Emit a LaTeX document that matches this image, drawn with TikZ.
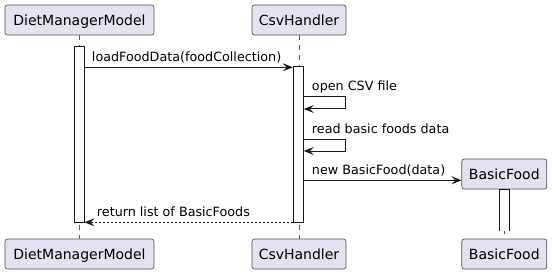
\documentclass[tikz,border=0pt]{standalone}
\usepackage{fontspec}
\setmainfont{DejaVu Sans}
\usetikzlibrary{arrows.meta}
\definecolor{ink}{HTML}{181818}
\definecolor{partfill}{HTML}{E2E2F0}
\begin{document}
\begin{tikzpicture}[x=0.75pt,y=-0.75pt,
  participant/.style={draw=ink!75, fill=partfill, rounded corners=1.9pt, line width=0.5pt,
    inner sep=0pt, minimum height=22.5pt, text height=7.6pt, text depth=0pt,
    font=\fontsize{10.5}{12}\selectfont},
  lifeline/.style={draw=ink!70, line width=0.4pt, dash pattern=on 3.75pt off 3.75pt},
  actbar/.style={draw=ink, fill=white, line width=0.75pt, inner sep=0pt, minimum width=7.5pt},
  msg/.style={draw=ink, line width=0.75pt, -{Stealth[length=7.5pt, width=6pt, inset=3pt]}},
  ret/.style={msg, dash pattern=on 1.5pt off 1.5pt},
  msglabel/.style={anchor=base west, inner sep=0pt, font=\fontsize{9.55}{11}\selectfont}]
\useasboundingbox[fill=white] (0,0) rectangle (552,274);

% participants, top and bottom
\node[participant, minimum width=111.75pt] (dmmT) at (79.5,20) {DietManagerModel};
\node[participant, minimum width=70.5pt]   (csvT) at (299,20)  {CsvHandler};
\node[participant, minimum width=111.75pt] (dmmB) at (79.5,254) {DietManagerModel};
\node[participant, minimum width=70.5pt]   (csvB) at (299,254) {CsvHandler};
\node[participant, minimum width=63.75pt]  (bfT)  at (504.3,174) {BasicFood};
\node[participant, minimum width=63.75pt]  (bfB)  at (504.3,254) {BasicFood};

% lifelines
\draw[lifeline] (dmmT.south) -- (dmmB.north);
\draw[lifeline] (csvT.south) -- (csvB.north);
\draw[lifeline] (bfT.south) -- (bfB.north);

% activation bars
\node[actbar, minimum height=132.5pt] (actDmm) at (79,134.35) {};
\node[actbar, minimum height=116.5pt] (actCsv) at (298.3,144.65) {};
\fill[white] (499.3,189) rectangle (509.3,231);
\draw[ink, line width=0.75pt] (499.3,231) -- (499.3,189) -- (509.3,189) -- (509.3,231);

% loadFoodData
\draw[msg] (actDmm.east |- 0,67.3) -- (actCsv.west |- 0,67.3);
\node[msglabel] (l1) at (91.7,61.5) {loadFoodData(foodCollection)};

% open CSV file
\coordinate (self1) at (345.7,103);
\draw[msg] (actCsv.east |- 0,97) -| (self1) |- (actCsv.east |- 0,109);
\node[msglabel] (l2) at (311.7,91) {open CSV file};

% read basic foods data
\coordinate (self2) at (345.7,145);
\draw[msg] (actCsv.east |- 0,139) -| (self2) |- (actCsv.east |- 0,151);
\node[msglabel] (l3) at (311.7,133.5) {read basic foods data};

% new BasicFood
\draw[msg] (actCsv.east |- 0,180.3) -- (bfT.west |- 0,180.3);
\node[msglabel] (l4) at (311.7,174.8) {new BasicFood(data)};

% return
\draw[ret] (actCsv.west |- 0,222.3) -- (actDmm.east |- 0,222.3);
\node[msglabel] (l5) at (96.7,216.8) {return list of BasicFoods};
\end{tikzpicture}
\end{document}
